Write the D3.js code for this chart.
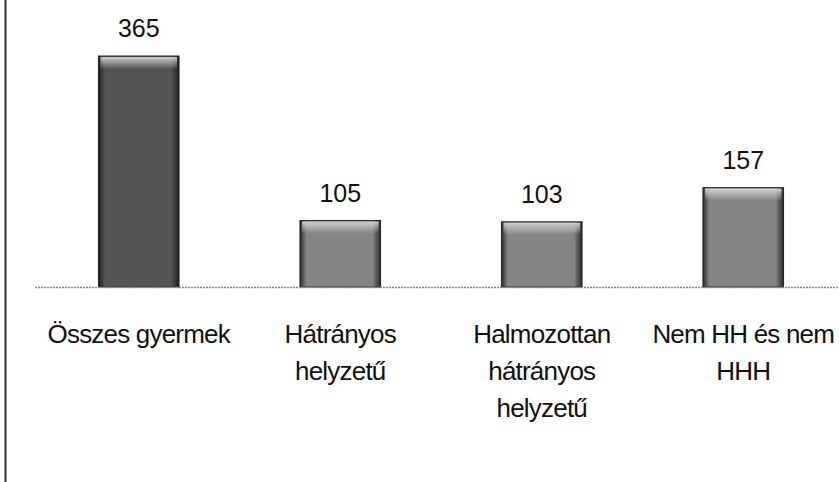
<!DOCTYPE html>
<html>
<head>
<meta charset="utf-8">
<script src="https://cdn.jsdelivr.net/npm/d3@7"></script>
<style>
  body { margin: 0; background: #fff; }
  svg { display: block; }
  text { font-family: "Liberation Sans", Arial, sans-serif; fill: #111; }
</style>
</head>
<body>
<script>
// chart data
const categories = ["Összes gyermek", "Hátrányos helyzetű", "Halmozottan hátrányos helyzetű", "Nem HH és nem HHH"];
const values = [365, 105, 103, 157];
// how each category label wraps
const labelLines = [
  ["Összes gyermek"],
  ["Hátrányos", "helyzetű"],
  ["Halmozottan", "hátrányos", "helyzetű"],
  ["Nem HH és nem", "HHH"]
];

const width = 839, height = 482;
const baseY = 287;

const svg = d3.select("body").append("svg")
  .attr("width", width)
  .attr("height", height);

const defs = svg.append("defs");

function barGradient(id, edge, mid) {
  const g = defs.append("linearGradient").attr("id", id)
    .attr("x1", 0).attr("x2", 1).attr("y1", 0).attr("y2", 0);
  g.append("stop").attr("offset", "0%").attr("stop-color", edge);
  g.append("stop").attr("offset", "8%").attr("stop-color", mid);
  g.append("stop").attr("offset", "90%").attr("stop-color", mid);
  g.append("stop").attr("offset", "100%").attr("stop-color", edge);
}
barGradient("barDark", "#1e1e1e", "#545454");
barGradient("barLight", "#2a2a2a", "#858585");

const capGrad = defs.append("linearGradient").attr("id", "cap")
  .attr("x1", 0).attr("x2", 0).attr("y1", 0).attr("y2", 1);
capGrad.append("stop").attr("offset", "0%").attr("stop-color", "#d8d8d8").attr("stop-opacity", 0.9);
capGrad.append("stop").attr("offset", "100%").attr("stop-color", "#d8d8d8").attr("stop-opacity", 0);

// left frame line
svg.append("line")
  .attr("x1", 5.5).attr("x2", 5.5)
  .attr("y1", 0).attr("y2", height)
  .attr("stroke", "#333").attr("stroke-width", 2);

const x = d3.scaleBand()
  .domain(categories)
  .range([38, 844])
  .paddingInner(0.6)
  .paddingOuter(0.3);

const y = d3.scaleLinear()
  .domain([0, 365])
  .range([baseY, 56]);

// bars
const bars = svg.append("g").selectAll("g")
  .data(values)
  .enter().append("g");

bars.append("rect")
  .attr("x", (d, i) => x(categories[i]))
  .attr("y", d => y(d))
  .attr("width", x.bandwidth())
  .attr("height", d => baseY - y(d))
  .attr("fill", (d, i) => i === 0 ? "url(#barDark)" : "url(#barLight)")
  .attr("stroke", "#222").attr("stroke-width", 1);

bars.append("rect")
  .attr("x", (d, i) => x(categories[i]) + 2)
  .attr("y", d => y(d) + 1)
  .attr("width", x.bandwidth() - 4)
  .attr("height", 12)
  .attr("fill", "url(#cap)");

// value labels
bars.append("text")
  .attr("x", (d, i) => x(categories[i]) + x.bandwidth() / 2)
  .attr("y", d => y(d) - 19)
  .attr("text-anchor", "middle")
  .attr("font-size", 25)
  .text(d => d);

// axis with baseline
const axis = svg.append("g")
  .attr("transform", `translate(0,${baseY})`)
  .call(d3.axisBottom(x).tickSize(0).tickPadding(0).tickFormat(""));

axis.select(".domain").remove();
svg.append("line")
  .attr("x1", 35).attr("x2", width)
  .attr("y1", baseY + 0.5).attr("y2", baseY + 0.5)
  .attr("stroke", "#888").attr("stroke-width", 1.5)
  .attr("stroke-dasharray", "2,1");

axis.selectAll(".tick").each(function(d, i) {
  const t = d3.select(this).append("text")
    .attr("text-anchor", "middle")
    .attr("font-size", 26)
    .attr("letter-spacing", -0.8)
    .attr("fill", "#111");
  labelLines[i].forEach((line, k) => {
    t.append("tspan")
      .attr("x", 0)
      .attr("y", 56 + k * 37)
      .text(line);
  });
});
</script>
</body>
</html>
